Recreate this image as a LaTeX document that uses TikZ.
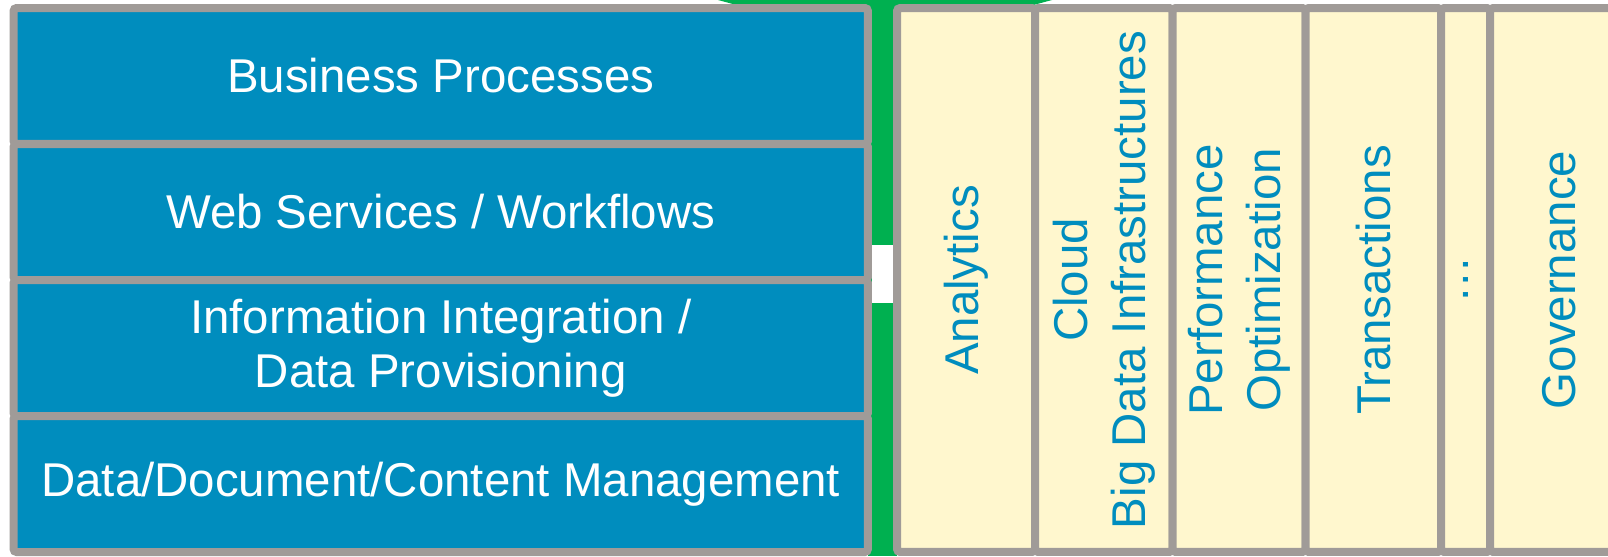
\documentclass[tikz,border=0pt]{standalone}
\usepackage{fontspec}
\setmainfont{Liberation Sans}
\usepackage{tikz}

\definecolor{layerblue}{RGB}{0,141,190}
\definecolor{framegray}{RGB}{160,155,152}
\definecolor{aspectyellow}{RGB}{255,247,206}
\definecolor{signalgreen}{RGB}{0,176,80}

\tikzset{
  layer/.style={draw=framegray, fill=layerblue, line width=0.16cm, rounded corners=1.7pt,
    minimum width=17.09cm, minimum height=2.72cm, inner sep=0pt,
    text=white, align=center, font=\fontsize{27}{31}\selectfont},
  aspect/.style={draw=framegray, fill=aspectyellow, line width=0.16cm, rounded corners=1.7pt,
    rotate=90, minimum width=10.88cm, inner sep=0pt,
    text=layerblue, align=center, font=\fontsize{27}{33}\selectfont}
}

\begin{document}
\begin{tikzpicture}[x=0.02cm, y=-0.02cm]
      \def\lx{440.75}
      \def\ay{280}
      \useasboundingbox (0,0) rectangle (1608,556);

      % Green band behind both stacks
      \fill[signalgreen] (718,0) -- (1052,0) -- (1000,14) -- (770,14) -- cycle;
      \fill[signalgreen] (868,0) rectangle (897,556);
      \fill[white] (872,245) rectangle (893,303);

      % Layers
      \node[layer] (bp) at (\lx, 76) {Business Processes};
      \node[layer] (ws) at (\lx, 212) {Web Services / Workflows};
      \node[layer] (ii) at (\lx, 348) {Information Integration /\\Data Provisioning};
      \node[layer] (dm) at (\lx, 484) {Data/Document/Content Management};

      % Cross-cutting aspects
      \node[aspect, minimum height=2.76cm] (an) at (966, \ay) {Analytics};
      \node[aspect, minimum height=2.75cm] (cl) at (1103.75, \ay) {Cloud\\Big Data Infrastructures};
      \node[aspect, minimum height=2.66cm] (po) at (1239, \ay) {Performance\\Optimization};
      \node[aspect, minimum height=2.71cm] (tr) at (1373.25, \ay) {Transactions};
      \node[aspect, minimum height=0.98cm] (dt) at (1465.5, \ay) {…};
      \node[aspect, minimum height=2.76cm] (gv) at (1559, \ay) {Governance};
    \end{tikzpicture}
\end{document}
